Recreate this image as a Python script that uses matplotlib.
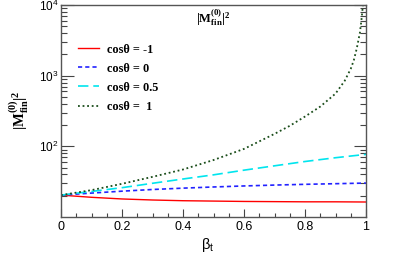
import matplotlib
matplotlib.use("Agg")
import matplotlib.pyplot as plt
from matplotlib.ticker import FixedLocator, FixedFormatter, NullFormatter

plt.rcParams['lines.scale_dashes'] = False
plt.rcParams['mathtext.fontset'] = 'custom'
plt.rcParams['mathtext.rm'] = 'Liberation Serif'
plt.rcParams['mathtext.bf'] = 'Liberation Serif:bold'
plt.rcParams['mathtext.it'] = 'Liberation Serif:italic'
plt.rcParams['mathtext.sf'] = 'Liberation Sans'

# values
beta_g = [0, 0.1, 0.2, 0.3, 0.4, 0.5, 0.6, 0.7, 0.75, 0.8, 0.85, 0.9, 0.93, 0.95, 0.96, 0.97, 0.98, 0.985, 0.99]
m_p1 = [20.4, 24, 29.5, 37, 47, 64, 92, 150, 195, 264, 365, 557, 843, 1250, 1650, 2460, 4050, 6100, 10000]

beta = [0, 0.1, 0.2, 0.3, 0.4, 0.5, 0.6, 0.7, 0.8, 0.9, 1.0]
m_m1 = [20.4, 19, 18, 17.4, 17, 16.8, 16.6, 16.5, 16.4, 16.4, 16.3]
m_0 = [20.4, 21.8, 23.2, 24.5, 25.6, 26.6, 27.5, 28.3, 29, 29.6, 30.2]
m_05 = [20.4, 23, 26, 30, 34.5, 39.5, 46, 53, 61, 69, 77]

labels = ["cos\u03b8 = -1", "cos\u03b8 = 0", "cos\u03b8 = 0.5", "cos\u03b8 =  1"]

fig = plt.figure(figsize=(4.07, 2.56), dpi=100)
ax = fig.add_axes([61/407, 39/256, 305/407, 212/256])

ax.plot(beta, m_m1, color='#ff0000', lw=1.0, label=labels[0])
ax.plot(beta, m_0, color='#2222ff', lw=1.2, dashes=(3, 2.2), label=labels[1])
ax.plot(beta, m_05, color='#00e5ee', lw=1.2, dashes=(7.5, 3.5), label=labels[2])
ax.plot(beta_g, m_p1, color='#1a4d1a', lw=1.3, dashes=(1.3, 2.0), label=labels[3])

ax.set_yscale('log')
ax.set_xlim(0, 1)
ax.set_ylim(10, 1e4)

ax.set_xticks([0, 0.2, 0.4, 0.6, 0.8, 1.0])
ax.set_xticklabels(['0', '0.2', '0.4', '0.6', '0.8', '1'])
ax.set_xticks([i * 0.05 for i in range(21)], minor=True)

ax.yaxis.set_major_locator(FixedLocator([100, 1000, 10000]))
ax.yaxis.set_major_formatter(FixedFormatter([r'$\mathsf{10^2}$', r'$\mathsf{10^3}$', r'$\mathsf{10^4}$']))
minors = [k * 10 ** e for e in (1, 2, 3) for k in range(2, 10)]
ax.yaxis.set_minor_locator(FixedLocator(minors))
ax.yaxis.set_minor_formatter(NullFormatter())

for lbl in ax.get_xticklabels():
    lbl.set_fontfamily('Liberation Sans')
    lbl.set_fontsize(9)
for lbl in ax.get_yticklabels():
    lbl.set_fontsize(8.5)

ax.tick_params(axis='x', which='major', direction='in', length=6, width=0.8, top=False, pad=3, colors='#444444', labelcolor='black')
ax.tick_params(axis='x', which='minor', direction='in', length=3, width=0.8, top=False, colors='#444444')
ax.tick_params(axis='y', which='major', direction='in', length=9, width=0.8, right=True, pad=2, colors='#444444', labelcolor='black')
ax.tick_params(axis='y', which='minor', direction='in', length=4.5, width=0.8, right=True, colors='#444444')
for s in ax.spines.values():
    s.set_color('#555555')
    s.set_linewidth(1.0)

fig.text(213/407, 1 - 18/256, r"$\mathbf{|M_{fin}^{(0)}|^2}$", fontsize=9, ha='center', va='center')
fig.text(19/407, 1 - 110/256, r"$\mathbf{|M_{fin}^{(0)}|^2}$", fontsize=10.5, rotation=90, ha='center', va='center')
fig.text(208/407, 1 - 245/256, r"$\mathsf{\beta_t}$", fontsize=10.5, ha='center', va='center')

leg = ax.legend(loc='upper left', bbox_to_anchor=(0.02, 0.87), frameon=False, handlelength=1.75,
                handletextpad=0.6, labelspacing=0.58,
                prop={'family': 'Liberation Serif', 'weight': 'bold', 'size': 8.8})

fig.savefig('out.png', dpi=100)
